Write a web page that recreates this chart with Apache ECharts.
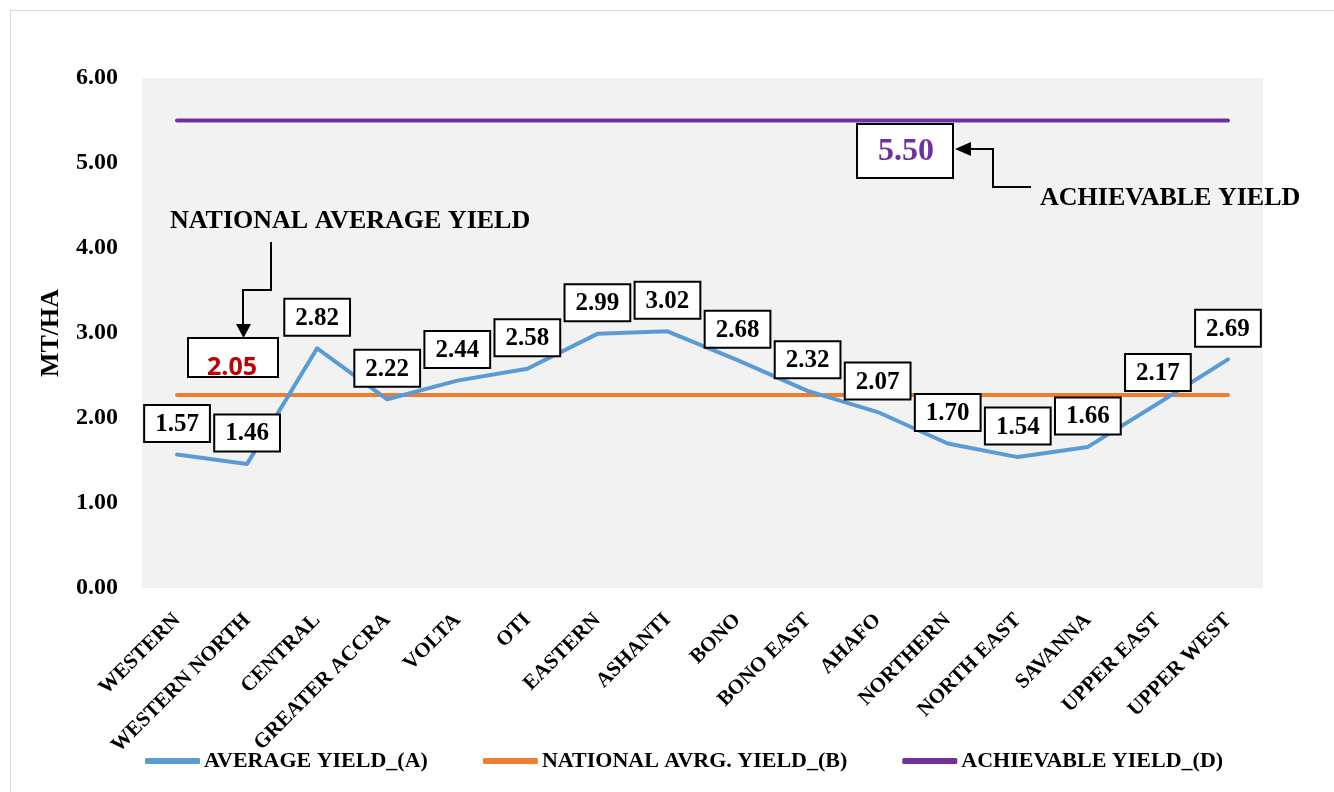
<!DOCTYPE html>
<html><head><meta charset="utf-8">
<script src="https://cdn.jsdelivr.net/npm/echarts@6/dist/echarts.min.js"></script>
<style>html,body{margin:0;padding:0;background:#fff}#c{width:1334px;height:792px}</style>
</head><body><div id="c"></div>
<script>
const categories = ['WESTERN','WESTERN NORTH','CENTRAL','GREATER ACCRA','VOLTA','OTI','EASTERN','ASHANTI','BONO','BONO EAST','AHAFO','NORTHERN','NORTH EAST','SAVANNA','UPPER EAST','UPPER WEST'];
const averageYield = [1.57,1.46,2.82,2.22,2.44,2.58,2.99,3.02,2.68,2.32,2.07,1.70,1.54,1.66,2.17,2.69];
const nationalYield = [2.27,2.27,2.27,2.27,2.27,2.27,2.27,2.27,2.27,2.27,2.27,2.27,2.27,2.27,2.27,2.27];
const achievableYield = [5.5,5.5,5.5,5.5,5.5,5.5,5.5,5.5,5.5,5.5,5.5,5.5,5.5,5.5,5.5,5.5];
const yTicks = [0,1,2,3,4,5,6];
const nationalLabel = '2.05';
const achievableLabel = '5.50';

const SERIF = '"Liberation Serif","DejaVu Serif",serif';
const SANS = '"Open Sans","Liberation Sans",sans-serif';
const chart = echarts.init(document.getElementById('c'));
const lineStyleBase = {width:4, cap:'round', join:'round'};
function ttl(text, left, top, size, color, family){
  return {text:text,left:left,top:top,padding:0,itemGap:0,
    textStyle:{fontFamily:family||SERIF,fontWeight:'bold',fontSize:size,color:color||'#000',lineHeight:size}};
}
chart.setOption({
  backgroundColor:'#fff',
  animation:false,
  title:[
    ttl('NATIONAL AVERAGE YIELD',170,208,26),
    ttl('ACHIEVABLE YIELD',1040,185,26),
    ttl(achievableLabel,878,136,32,'#7030A0'),
    ttl(nationalLabel,207,355,25,'#C00000',SANS)
  ],
  grid:{left:142,right:71,top:78,bottom:204,show:true,backgroundColor:'#F2F2F2',borderWidth:0},
  legend:{bottom:15,left:140,itemWidth:55,itemHeight:6,itemGap:55,icon:'roundRect',
    textStyle:{fontFamily:SERIF,fontWeight:'bold',fontSize:22,color:'#000',padding:[0,0,0,-1]},
    data:['AVERAGE YIELD_(A)','NATIONAL AVRG. YIELD_(B)','ACHIEVABLE YIELD_(D)']},
  xAxis:{type:'category',data:categories,boundaryGap:true,
    axisLine:{show:false},axisTick:{show:false},
    axisLabel:{interval:0,rotate:45,margin:29,fontFamily:SERIF,fontWeight:'bold',fontSize:21,color:'#000'}},
  yAxis:{type:'value',min:0,max:6,interval:1,
    name:'MT/HA',nameLocation:'middle',nameGap:78,nameRotate:90,
    nameTextStyle:{fontFamily:SERIF,fontWeight:'bold',fontSize:26,color:'#000'},
    axisLine:{show:false},axisTick:{show:false},splitLine:{show:false},
    axisLabel:{margin:24,fontFamily:SERIF,fontWeight:'bold',fontSize:24,color:'#000',formatter:v=>v.toFixed(2)}},
  series:[
    {name:'AVERAGE YIELD_(A)',type:'line',data:averageYield,symbol:'circle',symbolSize:1,showSymbol:true,z:5,
     color:'#5B9BD5',itemStyle:{color:'#5B9BD5'},lineStyle:Object.assign({color:'#5B9BD5'},lineStyleBase),
     label:{show:true,position:'top',distance:13,formatter:p=>p.value.toFixed(2),
       backgroundColor:'#fff',borderColor:'#000',borderWidth:2,padding:[6,10,4,10],lineHeight:25,
       fontFamily:SERIF,fontWeight:'bold',fontSize:25,color:'#000'}},
    {name:'NATIONAL AVRG. YIELD_(B)',type:'line',data:nationalYield,symbol:'none',z:3,
     color:'#ED7D31',lineStyle:Object.assign({color:'#ED7D31'},lineStyleBase)},
    {name:'ACHIEVABLE YIELD_(D)',type:'line',data:achievableYield,symbol:'none',z:3,
     color:'#7030A0',lineStyle:Object.assign({color:'#7030A0'},lineStyleBase)}
  ],
  graphic:[
    {type:'rect',shape:{x:10.5,y:10.5,width:1340,height:800},style:{fill:null,stroke:'#D9D9D9',lineWidth:1},silent:true,z:-1},
    {type:'polyline',shape:{points:[[271,242],[271,290],[243,290],[243,326]]},style:{stroke:'#000',lineWidth:2,fill:null},z:10},
    {type:'polygon',shape:{points:[[236,324],[251,324],[243.5,338]]},style:{fill:'#000'},z:10},
    {type:'rect',shape:{x:188,y:338,width:90,height:39},style:{fill:'#fff',stroke:'#000',lineWidth:2},z:1},
    {type:'rect',shape:{x:857,y:124,width:96,height:54},style:{fill:'#fff',stroke:'#000',lineWidth:2},z:1},
    {type:'polyline',shape:{points:[[1031,187],[993,187],[993,149],[968,149]]},style:{stroke:'#000',lineWidth:2,fill:null},z:10},
    {type:'polygon',shape:{points:[[971,142],[971,156],[955,149]]},style:{fill:'#000'},z:10}
  ]
});
</script></body></html>
